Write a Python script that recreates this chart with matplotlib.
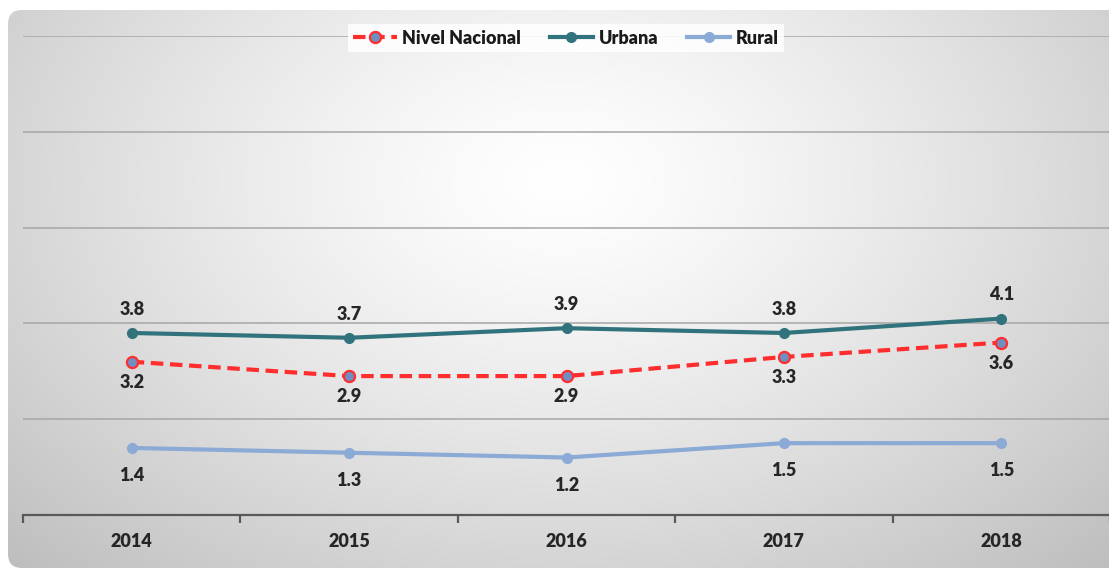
import numpy as np
import matplotlib.pyplot as plt
from matplotlib.patches import FancyBboxPatch
import matplotlib.ticker as ticker

years = ['2014', '2015', '2016', '2017', '2018']
nacional = [3.2, 2.9, 2.9, 3.3, 3.6]
urbana = [3.8, 3.7, 3.9, 3.8, 4.1]
rural = [1.4, 1.3, 1.2, 1.5, 1.5]

plt.rcParams['font.family'] = ['Lato', 'DejaVu Sans']

W, H = 1109, 570
fig = plt.figure(figsize=(W / 100, H / 100), dpi=100)
fig.patch.set_facecolor('white')

# background panel with radial gradient
bg = fig.add_axes([0, 0, 1, 1])
bg.set_xlim(0, W)
bg.set_ylim(H, 0)
bg.axis('off')
yy, xx = np.mgrid[0:H, 0:W]
d = np.sqrt(((xx - 560) / 700.0) ** 2 + ((yy - 180) / 480.0) ** 2)
shade = 1.0 - 0.22 * np.clip(d, 0, 1.2) ** 1.3
img = np.dstack([shade, shade, shade])
im = bg.imshow(img, extent=(0, W, H, 0), interpolation='bilinear')
panel = FancyBboxPatch((8, 10), W + 20, 558, boxstyle='round,pad=0,rounding_size=14',
                       facecolor='none', edgecolor='none', transform=bg.transData)
bg.add_patch(panel)
im.set_clip_path(panel)

# plot area
x0, x1 = 23 / W, 1110 / W
y0, y1 = 1 - 515 / H, 1 - 36 / H
ax = fig.add_axes([x0, y0, x1 - x0, y1 - y0])
ax.patch.set_alpha(0)
x = np.arange(len(years))
ax.set_xlim(-0.5, 4.5)
ax.set_ylim(0, 10)

ax.yaxis.set_major_locator(ticker.MultipleLocator(2))
ax.grid(axis='y', color='#a6a6a6', linewidth=1.1)
ax.tick_params(axis='y', length=0, labelleft=False)
for s in ['top', 'right', 'left']:
    ax.spines[s].set_visible(False)
ax.spines['bottom'].set_color('#595959')
ax.spines['bottom'].set_linewidth(1.6)
ax.set_axisbelow(True)

ax.set_xticks(x)
ax.set_xticklabels(years, fontsize=13, fontweight='heavy', color='#262626')
ax.set_xticks(np.arange(-0.5, 5, 1), minor=True)
ax.tick_params(axis='x', which='major', length=0, pad=13)
ax.tick_params(axis='x', which='minor', length=6, width=1.6, color='#595959')

red = '#ff2d2d'
teal = '#31737c'
light = '#8caad6'

ax.plot(x, nacional, color=red, linewidth=3, dashes=(3, 1.6), marker='o', markersize=8,
        markerfacecolor='#6f8fc2', markeredgecolor=red, markeredgewidth=1.6,
        label='Nivel Nacional', zorder=4)
ax.plot(x, urbana, color=teal, linewidth=3, marker='o', markersize=7,
        markerfacecolor=teal, markeredgecolor=teal, label='Urbana', zorder=3)
ax.plot(x, rural, color=light, linewidth=3, marker='o', markersize=7,
        markerfacecolor=light, markeredgecolor=light, label='Rural', zorder=3)

lab = dict(ha='center', va='center', fontsize=13, fontweight='heavy', color='#262626',
           textcoords='offset points')
for i in x:
    ax.annotate(f'{urbana[i]:.1f}', (i, urbana[i]), xytext=(0, 17), **lab)
    ax.annotate(f'{nacional[i]:.1f}', (i, nacional[i]), xytext=(0, -15), **lab)
    ax.annotate(f'{rural[i]:.1f}', (i, rural[i]), xytext=(0, -20), **lab)

leg = ax.legend(loc='center', bbox_to_anchor=(566 / W, 1 - 38 / H), bbox_transform=fig.transFigure,
                ncol=3, frameon=True, fancybox=False, framealpha=0.85, facecolor='white',
                edgecolor='none', handlelength=2.4, handletextpad=0.3, columnspacing=1.6,
                borderpad=0.3, prop={'weight': 'heavy', 'size': 13})
for t in leg.get_texts():
    t.set_color('#1a1a1a')

fig.savefig('out.png', dpi=100)
